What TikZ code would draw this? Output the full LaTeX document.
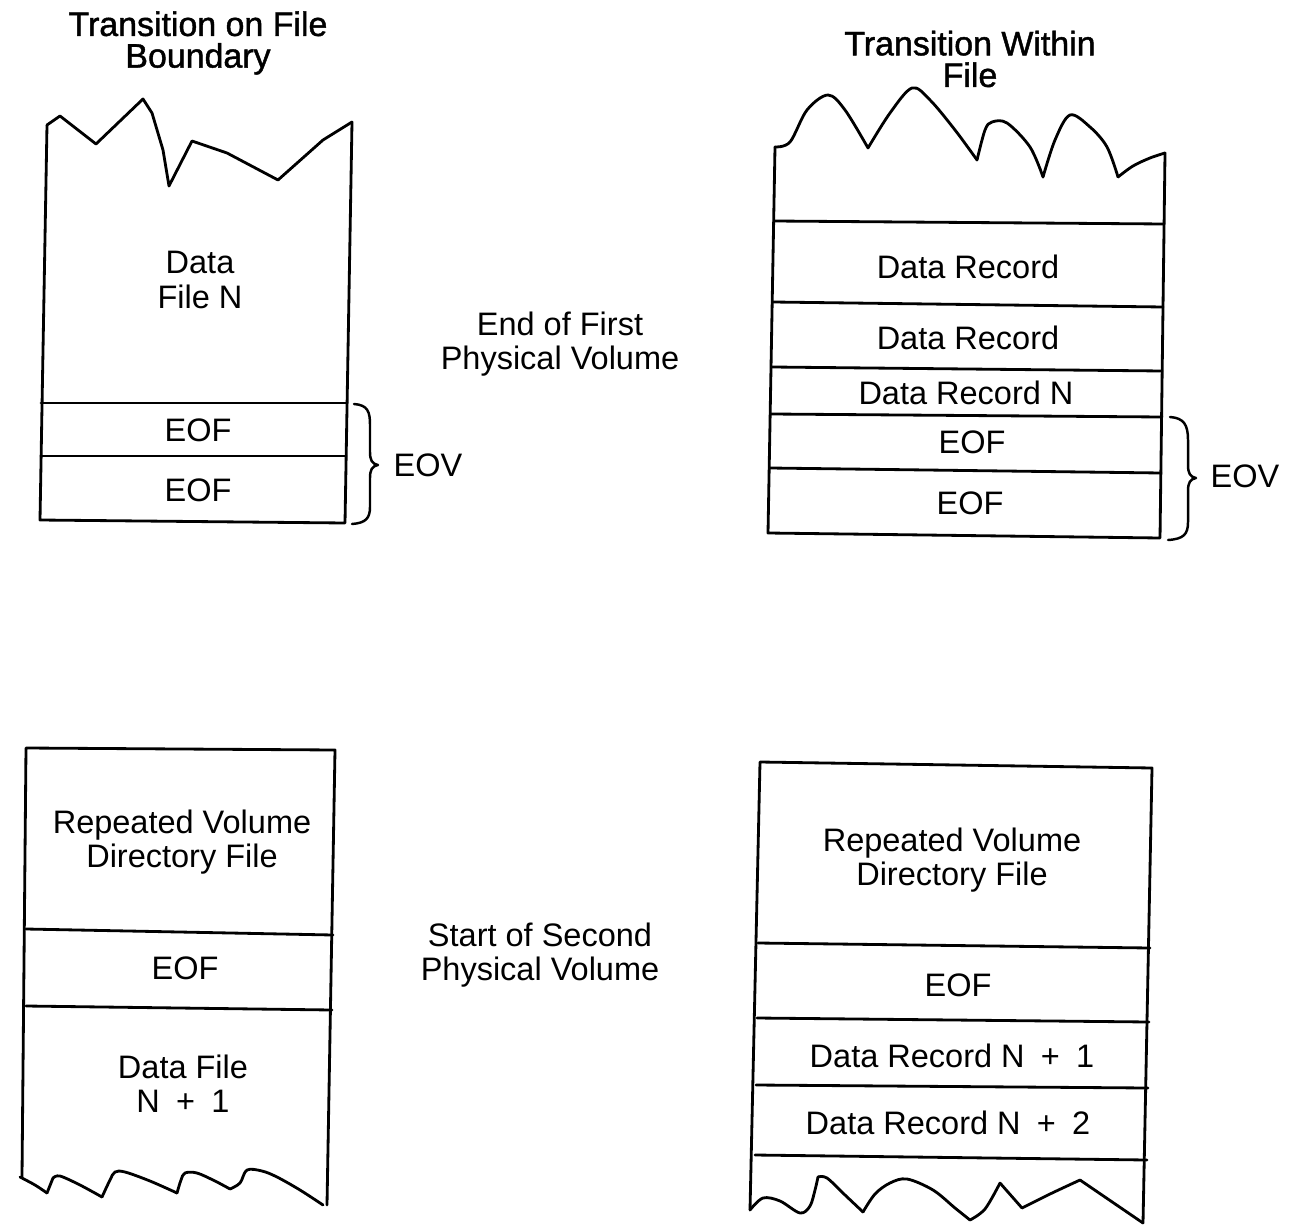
\documentclass[tikz,border=0pt]{standalone}
\usepackage{fontspec}
\setmainfont{Liberation Sans}
\newfontfamily\ttlfont[FakeBold=1.3]{Liberation Sans}
\begin{document}
\begin{tikzpicture}[x=0.02cm,y=-0.02cm,
  edge/.style={line width=1.6pt,line join=round,line cap=round},
  lbl/.style={font=\fontsize{18.5}{19.5}\selectfont,align=center,inner sep=0pt},
  ttl/.style={font=\ttlfont\fontsize{19.3}{18}\selectfont,align=center,inner sep=0pt},
  sm/.style={smooth,tension=0.55}]
\useasboundingbox (0,0) rectangle (1297,1226);
% ---------- top-left box ----------
\draw[edge] (47,125) -- (60,116) -- (96,144) -- (143,99) -- (152,113) -- (163,150) -- (169,186)
  -- (192,141) -- (227,153) -- (278,180) -- (323,140) -- (352,122);
\draw[edge] (47,125) -- (40,520) -- (345,523) -- (352,122);
\draw[edge] (41,403) -- (347,403);
\draw[edge] (41,456) -- (346,456);
\node[ttl] (t1) at (198,43) {Transition on File\\Boundary};
\node[lbl] (d1) at (200,280) {Data\\File N};
\node[lbl] (e1) at (198,430) {EOF};
\node[lbl] (e2) at (198,490) {EOF};
\draw[edge,line width=1.4pt] (354,404) .. controls (368,405) and (370,412) .. (370,425) -- (370,452)
  .. controls (370,460) and (372,464) .. (378,465) .. controls (372,466) and (370,470) .. (370,478)
  -- (370,507) .. controls (370,518) and (366,523) .. (352,524);
\node[lbl] (eov1) at (428,465) {EOV};
\node[lbl] (m1) at (560,344) {End of First\\Physical Volume};
% ---------- top-right box ----------
\draw[edge] plot[sm] coordinates {(775,147) (790,142) (807,110) (828,95) (845,110) (868,148)};
\draw[edge] plot[sm] coordinates {(868,148) (890,113) (912,88) (930,100) (955,130) (977,160)};
\draw[edge] plot[sm] coordinates {(977,160) (985,130) (992,122) (1007,123) (1030,147) (1043,177)};
\draw[edge] plot[sm] coordinates {(1043,177) (1055,140) (1070,115) (1090,127) (1107,147) (1118,177)};
\draw[edge] plot[sm] coordinates {(1118,177) (1133,166) (1150,158) (1165,153)};
\draw[edge] (775,147) -- (768,533) -- (1160,538) -- (1165,153);
\draw[edge] (774,221) -- (1164,224);
\draw[edge] (773,302) -- (1163,307);
\draw[edge] (772,367) -- (1162,371);
\draw[edge] (771,414) -- (1162,417);
\draw[edge] (770,468) -- (1161,473);
\node[ttl] (t2) at (970,59) {Transition Within\\File};
\node[lbl] (r1) at (968,267) {Data Record};
\node[lbl] (r2) at (968,338) {Data Record};
\node[lbl] (r3) at (966,393) {Data Record N};
\node[lbl] (e3) at (972,442) {EOF};
\node[lbl] (e4) at (970,503) {EOF};
\draw[edge,line width=1.4pt] (1170,417) .. controls (1184,418) and (1188,425) .. (1188,440) -- (1188,465)
  .. controls (1188,473) and (1190,477) .. (1196,478) .. controls (1190,479) and (1188,483) .. (1188,491)
  -- (1188,522) .. controls (1188,534) and (1184,539) .. (1168,540);
\node[lbl] (eov2) at (1245,476) {EOV};
% ---------- bottom-left box ----------
\draw[edge] (22,1177) -- (26,748) -- (335,750) -- (327,1205);
\draw[edge] plot[sm] coordinates {(20,1177) (35,1185) (47,1193)};
\draw[edge] (47,1193) -- (53,1178);
\draw[edge] plot[sm] coordinates {(53,1178) (60,1176) (80,1185) (102,1197)};
\draw[edge] plot[sm] coordinates {(102,1197) (110,1180) (115,1172) (125,1172) (150,1181) (177,1193)};
\draw[edge] plot[sm] coordinates {(177,1193) (181,1180) (185,1173) (197,1173) (215,1181) (230,1189)};
\draw[edge] plot[sm] coordinates {(230,1189) (240,1183) (247,1170) (262,1171) (277,1177) (300,1190) (323,1205)};
\draw[edge] (26,929) -- (333,935);
\draw[edge] (26,1006) -- (332,1010);
\node[lbl] (v1) at (182,842) {Repeated Volume\\Directory File};
\node[lbl] (e5) at (185,968) {EOF};
\node[lbl] (d2) at (183,1084) {Data File\\N\enspace+\enspace1};
\node[lbl] (m2) at (540,955) {Start of Second\\Physical Volume};
% ---------- bottom-right box ----------
\draw[edge] (750,1210) -- (760,762) -- (1152,768) -- (1143,1223);
\draw[edge] (758,943) -- (1150,948);
\draw[edge] (757,1018) -- (1149,1022);
\draw[edge] (756,1085) -- (1148,1088);
\draw[edge] (755,1155) -- (1147,1160);
\draw[edge] plot[sm] coordinates {(750,1210) (763,1198) (780,1201) (800,1213) (810,1206) (815,1190) (818,1177)};
\draw[edge] plot[sm] coordinates {(818,1177) (827,1178) (845,1195) (863,1212)};
\draw[edge] plot[sm] coordinates {(863,1212) (875,1194) (890,1183) (907,1179) (933,1190) (955,1208) (970,1220)};
\draw[edge] plot[sm] coordinates {(970,1220) (985,1209) (1000,1183)};
\draw[edge] (1000,1183) -- (1022,1208);
\draw[edge] plot[sm] coordinates {(1022,1208) (1050,1194) (1080,1180)};
\draw[edge] (1080,1180) -- (1143,1223);
\node[lbl] (v2) at (952,860) {Repeated Volume\\Directory File};
\node[lbl] (e6) at (958,985) {EOF};
\node[lbl] (r4) at (952,1056) {Data Record N\enspace+\enspace1};
\node[lbl] (r5) at (948,1123) {Data Record N\enspace+\enspace2};
\end{tikzpicture}
\end{document}
